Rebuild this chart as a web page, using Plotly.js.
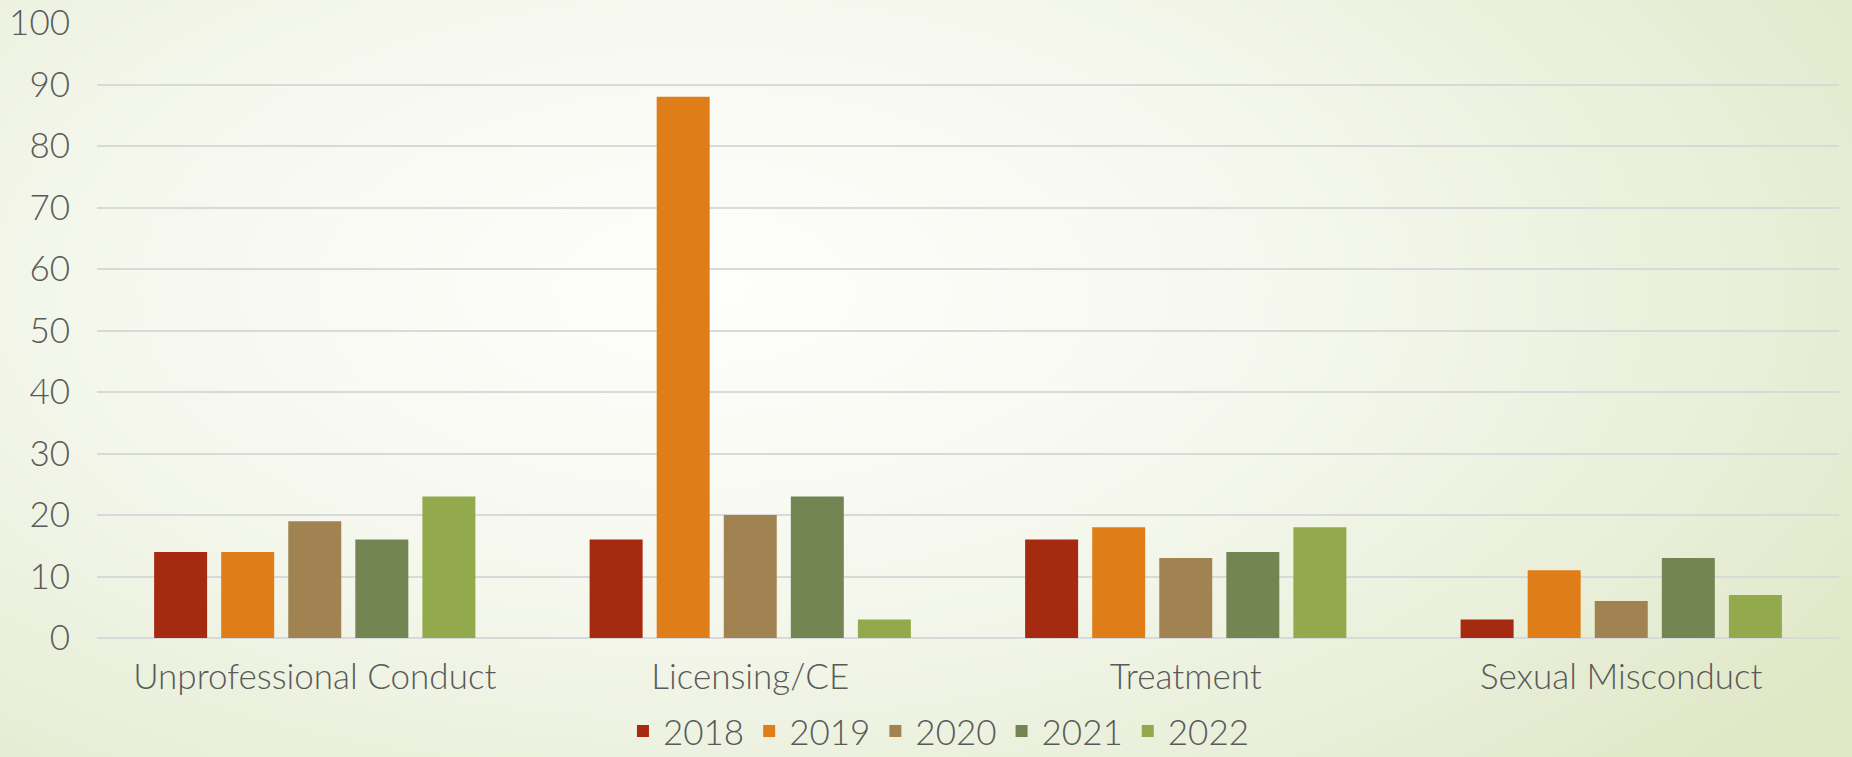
<!DOCTYPE html>
<html>
<head>
<meta charset="utf-8">
<script src="https://cdn.plot.ly/plotly-3.0.1.min.js"></script>
<style>
  html, body { margin: 0; padding: 0; width: 1852px; height: 757px; overflow: hidden; }
  body { background: radial-gradient(ellipse 75% 95% at 38% 38%, #fefefc 0%, #f6f8ef 40%, #e9efd9 75%, #dfe7c5 100%); }
  #chart { width: 1852px; height: 757px; }
</style>
</head>
<body>
<div id="chart"></div>
<script>
const categories = ["Unprofessional Conduct", "Licensing/CE", "Treatment", "Sexual Misconduct"];
const years = ["2018", "2019", "2020", "2021", "2022"];
const v2018 = [14, 16, 16, 3];
const v2019 = [14, 88, 18, 11];
const v2020 = [19, 20, 13, 6];
const v2021 = [16, 23, 14, 13];
const v2022 = [23, 3, 18, 7];
const colors = ["#A52A10", "#DF7E18", "#A08350", "#728552", "#92AA4B"];
const seriesValues = [v2018, v2019, v2020, v2021, v2022];

const font = "Lato, 'DejaVu Sans', sans-serif";
const tf = { family: font, size: 35, color: "#595959", weight: 300 };
const traces = years.map((y, i) => ({
  type: "bar",
  name: y,
  x: categories,
  y: seriesValues[i],
  marker: { color: colors[i] },
  hoverinfo: "x+y+name"
}));

const layout = {
  width: 1852, height: 757,
  paper_bgcolor: "rgba(0,0,0,0)",
  plot_bgcolor: "rgba(0,0,0,0)",
  margin: { l: 97, r: 13, t: 23, b: 119, autoexpand: false },
  barmode: "group",
  bargap: 0.23,
  bargroupgap: 0.21,
  font: tf,
  xaxis: {
    type: "category",
    automargin: false,
    showgrid: false,
    showline: false,
    zeroline: false,
    ticks: "",
    ticklabelstandoff: 15,
    tickfont: tf
  },
  yaxis: {
    range: [0, 100],
    automargin: false,
    dtick: 10,
    showgrid: true,
    gridcolor: "#d9d9d9",
    gridwidth: 2,
    zeroline: true,
    zerolinecolor: "#d9d9d9",
    zerolinewidth: 2,
    showline: false,
    ticks: "",
    ticklabelstandoff: 26,
    tickfont: tf
  },
  legend: {
    orientation: "h",
    xref: "container", yref: "container",
    x: 0.507, xanchor: "center",
    y: 0.034, yanchor: "middle",
    font: tf,
    itemwidth: 30,
    bgcolor: "rgba(0,0,0,0)"
  },
  showlegend: true
};

Plotly.newPlot("chart", traces, layout, { displayModeBar: false, staticPlot: true });
</script>
</body>
</html>
